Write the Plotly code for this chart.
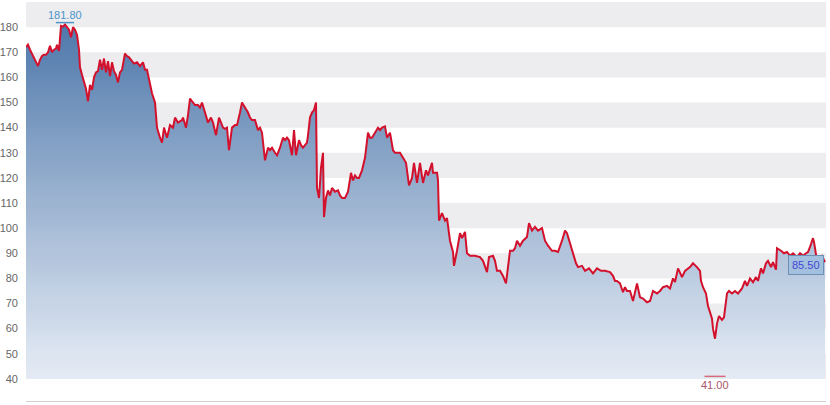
import plotly.graph_objects as go

# ---- data (trading-day index and closing value) ----
days = [0, 2, 4, 6, 8, 10, 12, 14, 16, 18,
        20, 22, 24, 26, 28, 30, 31, 33, 35, 37,
        39, 41, 43, 45, 47, 49, 51, 53, 54, 56,
        58, 60, 62, 64, 66, 68, 70, 72, 74, 76,
        78, 80, 82, 84, 86, 88, 90, 92, 94, 96,
        99, 101, 103, 105, 108, 111, 114, 117, 119, 121,
        124, 126, 129, 131, 134, 136, 138, 141, 144, 147,
        149, 152, 154, 156, 157, 160, 162, 164, 167, 169,
        172, 174, 176, 179, 182, 185, 187, 190, 193, 195,
        197, 199, 201, 203, 206, 209, 211, 214, 216, 219,
        222, 224, 226, 229, 232, 234, 236, 239, 242, 244,
        246, 249, 251, 254, 257, 259, 261, 263, 266, 268,
        270, 273, 275, 277, 279, 281, 282, 284, 286, 288,
        290, 291, 293, 295, 297, 298, 300, 302, 304, 306,
        309, 312, 314, 316, 319, 322, 325, 327, 329, 331,
        333, 336, 339, 342, 344, 346, 349, 352, 354, 356,
        359, 361, 364, 367, 369, 371, 374, 377, 380, 383,
        386, 388, 391, 394, 397, 400, 402, 406, 407, 409,
        411, 412, 413, 416, 419, 421, 424, 427, 428, 431,
        434, 436, 439, 441, 444, 449, 454, 457, 461, 463,
        467, 469, 471, 474, 477, 480, 482, 484, 487, 489,
        491, 494, 497, 501, 503, 506, 509, 512, 516, 519,
        522, 526, 529, 532, 536, 539, 541, 544, 547, 550,
        552, 556, 559, 563, 567, 571, 575, 579, 584, 587,
        589, 591, 594, 597, 599, 601, 604, 607, 611, 614,
        617, 621, 624, 627, 631, 634, 637, 641, 644, 647,
        649, 652, 656, 659, 664, 667, 671, 674, 675, 677,
        680, 682, 684, 686, 687, 689, 691, 693, 696, 698,
        701, 703, 706, 709, 712, 716, 719, 721, 724, 727,
        730, 732, 735, 737, 740, 742, 745, 747, 750, 751,
        755, 758, 761, 764, 767, 771, 774, 777, 780, 782,
        784, 787, 788, 791, 793, 796, 797, 799]
close = [172, 173, 171, 169.5, 168, 166.5, 164.5, 167, 168.5, 169,
         169, 170, 172.6, 170, 171, 171.5, 173, 170.5, 180.5, 180.2,
         181, 180, 179, 176, 180, 179, 177, 171, 164, 161,
         158, 155.5, 150.5, 157, 155, 160, 162, 162.5, 167, 163,
         167.5, 162, 166.5, 160.5, 166, 162.5, 161, 158, 162, 163,
         169.5, 168.5, 168, 167, 165.5, 166, 164.5, 166, 163, 163,
         158, 153.7, 150, 140, 136, 134, 140, 136, 141, 140,
         144, 142, 142.5, 143, 144, 140, 145, 151.5, 150, 149,
         149, 148, 150, 146, 142, 144, 142, 137, 144, 142,
         140, 139.5, 140, 131, 140, 141, 141, 146, 150, 148,
         146, 144, 143, 143, 139, 140, 138, 127, 132, 131,
         132, 130, 129, 132, 136, 135, 136, 135, 129, 139,
         129, 135, 133, 132, 133, 134, 137, 144, 146, 147,
         150, 116, 112, 124, 130, 104.4, 112, 115, 113, 116,
         114.5, 115, 113, 112, 112, 114.5, 122, 119, 121, 120,
         120, 123, 128, 138, 136, 136, 138, 140, 139, 140,
         140.5, 136, 138, 131, 130, 130, 130, 128, 126, 117,
         120, 126, 118, 126, 118, 123, 121, 126, 122, 122,
         122, 119, 103, 106, 103, 104, 95, 90.5, 85, 91,
         98, 96, 98.5, 90, 89, 89, 88.5, 87, 82.5, 88.5,
         89, 87, 83, 83, 81, 78, 84.5, 91, 91, 92,
         95, 93, 95, 96.5, 102, 99, 100.5, 99, 100, 95,
         93, 91, 91, 90.5, 95, 99, 98, 94, 90.5, 86,
         84.5, 85, 83, 84, 82, 84, 83, 83, 82.5, 81,
         79, 79, 78, 74.5, 76.5, 75, 75, 71, 78, 72.5,
         72, 70.5, 71, 75, 74, 75, 76.5, 77, 76, 80,
         78.5, 84, 80.5, 83, 84.5, 86, 84.5, 83, 79, 76.5,
         74, 69, 66.5, 64, 60, 56, 62, 65, 63.5, 64.5,
         74, 75, 74, 75, 74, 76, 79, 77, 80, 78.5,
         80.5, 79, 84, 82, 86, 87, 84.5, 86.5, 83.5, 92,
         91, 90, 90.5, 89, 90, 88.5, 90, 89, 90, 90.5,
         92.5, 96, 94.5, 87, 88.5, 89, 88, 86.5]

y_ticks = [40, 50, 60, 70, 80, 90, 100, 110, 120, 130, 140, 150, 160, 170, 180]
band_lows = [40, 60, 80, 100, 120, 140, 160, 180]
high_label = 181.80
low_label = 41.00
last_label = 85.50

n = min(len(days), len(close))
days = days[:n]
close = close[:n]

imax = max(range(n), key=lambda i: close[i])
imin = min(range(n), key=lambda i: close[i])

FONT = "Liberation Sans, Arial, sans-serif"

fig = go.Figure()

# baseline for the area (axis floor)
fig.add_trace(go.Scatter(x=days, y=[y_ticks[0]] * n, mode="lines",
                         line=dict(width=0, color="rgba(0,0,0,0)"),
                         hoverinfo="skip", showlegend=False))
fig.add_trace(go.Scatter(
    x=days, y=close, mode="lines",
    line=dict(color="#d3112c", width=2),
    fill="tonexty",
    fillgradient=dict(type="vertical", start=40, stop=182,
                      colorscale=[[0, "rgba(228,235,245,0.9)"],
                                  [1, "rgba(68,112,166,0.95)"]]),
    showlegend=False))

# high/low markers
fig.add_trace(go.Scatter(x=[days[imax]], y=[high_label], mode="markers",
                         marker=dict(symbol="line-ew", size=13,
                                     line=dict(color="#4a94c8", width=1.5)),
                         showlegend=False, hoverinfo="skip"))
fig.add_trace(go.Scatter(x=[days[imin]], y=[low_label], mode="markers",
                         marker=dict(symbol="line-ew", size=15,
                                     line=dict(color="#d46a7a", width=1.5)),
                         showlegend=False, hoverinfo="skip"))

shapes = []
for lo in band_lows:
    shapes.append(dict(type="rect", xref="x domain", x0=0, x1=1, yref="y", y0=lo, y1=lo + 10,
                       fillcolor="#ededf0", line=dict(width=0), layer="below"))

annotations = [
    dict(x=days[imax], y=high_label, text=f"{high_label:.2f}", showarrow=False,
         yanchor="bottom", yshift=0, font=dict(color="#4a94c8", size=11, family=FONT)),
    dict(x=days[imin], y=low_label, text=f"{low_label:.2f}", showarrow=False,
         yanchor="top", yshift=-1, font=dict(color="#a8566a", size=11, family=FONT)),
    dict(x=days[-1], y=last_label, text=f"{last_label:.2f}", showarrow=False,
         xanchor="right", xshift=-1, yanchor="middle",
         bgcolor="#a3c0de", bordercolor="#6b8fb5", borderwidth=1, borderpad=3,
         font=dict(color="#4646d4", size=11, family=FONT)),
]

fig.update_layout(
    width=830, height=405,
    margin=dict(l=26, r=4, t=2, b=4),
    paper_bgcolor="white", plot_bgcolor="white",
    shapes=shapes, annotations=annotations,
    font=dict(family=FONT, size=11, color="#666666"),
    xaxis=dict(range=[0, 800], showgrid=False, zeroline=False, showticklabels=False,
               showline=True, linecolor="#d0d0d0", linewidth=1, ticks="", automargin=False),
    yaxis=dict(range=[31.2, 190], tickvals=y_ticks, showgrid=False, zeroline=False,
               showline=False, ticks="", ticklabelstandoff=7, automargin=False,
               tickfont=dict(size=11, color="#666666")),
)

fig.write_html("out.html", config={"displayModeBar": False},
               post_script="document.body.style.margin='0px';document.body.style.overflow='hidden';")
